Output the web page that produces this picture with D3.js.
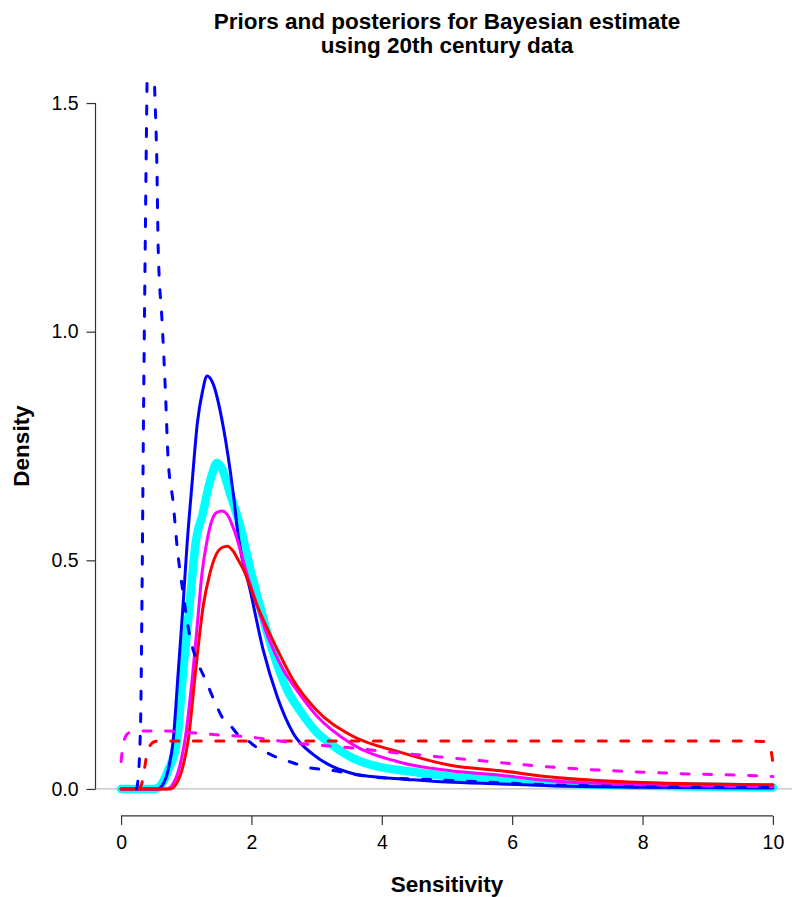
<!DOCTYPE html>
<html><head><meta charset="utf-8">
<script src="https://cdn.jsdelivr.net/npm/d3@7"></script>
<style>body{margin:0;background:#fff} svg{display:block;font-family:"Liberation Sans",Arial,Helvetica,sans-serif}</style>
</head><body><svg id="c" width="792" height="897"></svg>
<script>
// ---- data ----
const titleLines = ["Priors and posteriors for Bayesian estimate", "using 20th century data"];
const xLabel = "Sensitivity";
const yLabel = "Density";
const xTicks = [0, 2, 4, 6, 8, 10];
const yTicks = [0, 0.5, 1.0, 1.5];
const yTickLabels = ["0.0", "0.5", "1.0", "1.5"];

// posterior (thick cyan)
const cyanX = [0, 0.52, 0.62, 0.72, 0.86, 0.95, 1.05, 1.15, 1.25, 1.32, 1.4, 1.47, 1.55, 1.67, 1.83, 2.0, 2.13, 2.32, 2.55, 2.75, 3.0, 3.2, 3.52, 4.0, 4.29, 5.0, 5.82, 6.59, 8, 10];
const cyanY = [0, 0, 0.01, 0.04, 0.107, 0.254, 0.4, 0.544, 0.6, 0.647, 0.69, 0.713, 0.7, 0.647, 0.573, 0.47, 0.4, 0.304, 0.216, 0.17, 0.124, 0.1, 0.07, 0.047, 0.041, 0.028, 0.02, 0.013, 0.007, 0.003];

// posterior (blue solid)
const blueX = [0, 0.55, 0.65, 0.72, 0.8, 0.876, 0.95, 1.01, 1.09, 1.17, 1.25, 1.32, 1.4, 1.57, 1.72, 1.8, 1.98, 2.18, 2.4, 2.64, 2.95, 3.2, 3.52, 4.0, 4.29, 5.0, 5.82, 6.59, 8, 10];
const blueY = [0, 0, 0.012, 0.04, 0.107, 0.254, 0.4, 0.53, 0.67, 0.8, 0.87, 0.903, 0.89, 0.79, 0.647, 0.55, 0.435, 0.304, 0.2, 0.122, 0.075, 0.052, 0.035, 0.025, 0.022, 0.015, 0.011, 0.007, 0.004, 0.002];

// posterior (magenta solid)
const magX = [0, 0.7, 0.8, 0.9, 0.98, 1.1, 1.17, 1.24, 1.32, 1.4, 1.47, 1.55, 1.63, 1.75, 1.93, 2.09, 2.26, 2.49, 2.7, 3.0, 3.52, 4.29, 5.05, 5.82, 6.59, 8, 10];
const magY = [0, 0, 0.012, 0.05, 0.107, 0.254, 0.36, 0.47, 0.544, 0.59, 0.605, 0.608, 0.6, 0.56, 0.47, 0.4, 0.33, 0.26, 0.215, 0.16, 0.1, 0.058, 0.04, 0.03, 0.018, 0.009, 0.005];

// posterior (red solid)
const redX = [0, 0.75, 0.85, 0.95, 1.03, 1.14, 1.26, 1.36, 1.45, 1.55, 1.63, 1.72, 1.8, 1.88, 2.09, 2.4, 2.64, 3.0, 3.52, 4.29, 5.05, 5.82, 6.59, 8, 10];
const redY = [0, 0, 0.012, 0.05, 0.107, 0.254, 0.4, 0.47, 0.51, 0.528, 0.531, 0.52, 0.5, 0.479, 0.4, 0.304, 0.238, 0.172, 0.118, 0.08, 0.052, 0.04, 0.026, 0.014, 0.009];

// prior (blue dashed)
const bluePriorX = [0.24, 0.26, 0.3, 0.32, 0.34, 0.37, 0.4, 0.44, 0.48, 0.51, 0.55, 0.57, 0.63, 0.68, 0.72, 0.8, 0.86, 0.94, 1.06, 1.18, 1.29, 1.44, 1.55, 1.67, 1.8, 1.93, 2.09, 2.24, 2.41, 2.6, 2.9, 3.16, 3.87, 4.85, 6.6, 8, 10];
const bluePriorY = [0, 0.02, 0.15, 0.4, 0.75, 1.18, 1.56, 1.8, 1.75, 1.56, 1.36, 1.18, 1.02, 0.87, 0.726, 0.625, 0.529, 0.44, 0.33, 0.275, 0.24, 0.19, 0.157, 0.14, 0.118, 0.107, 0.09, 0.079, 0.068, 0.059, 0.046, 0.042, 0.026, 0.02, 0.009, 0.005, 0.003];

// prior (red dashed)
const redPriorX = [0.28, 0.32, 0.36, 0.4, 0.46, 0.52, 0.6, 1, 2, 4, 6, 8, 9.5, 9.85, 9.92, 9.97, 10];
const redPriorY = [0, 0.013, 0.045, 0.079, 0.098, 0.104, 0.105, 0.105, 0.105, 0.105, 0.105, 0.105, 0.105, 0.104, 0.1, 0.085, 0.055];

// prior (magenta dashed)
const magPriorX = [0, 0.03, 0.07, 0.12, 0.2, 0.5, 0.8, 1.17, 1.5, 1.94, 2.7, 3.52, 4.3, 5.05, 5.8, 6.59, 7.5, 8.5, 9.86, 10];
const magPriorY = [0.06, 0.095, 0.115, 0.123, 0.126, 0.127, 0.126, 0.122, 0.118, 0.114, 0.1, 0.09, 0.078, 0.068, 0.058, 0.048, 0.04, 0.034, 0.028, 0.027];

// ---- drawing ----
const svg = d3.select("#c");
const L = 95, R = 799, T = 75.6, B = 816.4;
const x = d3.scaleLinear().domain([-0.4, 10.4]).range([L, R]);
const y = d3.scaleLinear().domain([-0.06, 1.56]).range([B, T]);

svg.append("defs").append("clipPath").attr("id", "plot")
  .append("rect").attr("x", L).attr("y", T).attr("width", R - L).attr("height", B - T);

const g = svg.append("g").attr("clip-path", "url(#plot)");

// horizontal reference line at 0
g.append("line").attr("x1", L).attr("x2", R).attr("y1", y(0)).attr("y2", y(0))
  .attr("stroke", "#bdbdbd").attr("stroke-width", 1.3);

const line = d3.line().x(d => x(d[0])).y(d => y(d[1])).curve(d3.curveMonotoneX);
const zip = (xs, ys) => xs.map((v, i) => [v, ys[i]]);

const series = [
  {xs: cyanX, ys: cyanY, color: "#00ffff", w: 8.5, dash: null},
  {xs: blueX, ys: blueY, color: "#0000ff", w: 3, dash: null},
  {xs: magX, ys: magY, color: "#ff00ff", w: 3, dash: null},
  {xs: redX, ys: redY, color: "#ff0000", w: 3, dash: null},
  {xs: bluePriorX, ys: bluePriorY, color: "#0000ff", w: 3, dash: "8,14.5"},
  {xs: redPriorX, ys: redPriorY, color: "#ff0000", w: 3, dash: "8,14.5"},
  {xs: magPriorX, ys: magPriorY, color: "#ff00ff", w: 3, dash: "8,14.5"}
];
series.forEach(s => {
  g.append("path").datum(zip(s.xs, s.ys))
    .attr("d", line).attr("fill", "none")
    .attr("stroke", s.color).attr("stroke-width", s.w)
    .attr("stroke-linecap", "round").attr("stroke-linejoin", "round")
    .attr("stroke-dasharray", s.dash);
});

// axes
const axColor = "#333";
const xa = svg.append("g").attr("transform", `translate(0,${B - 0.5})`)
  .call(d3.axisBottom(x).tickValues(xTicks).tickSize(9).tickPadding(10).tickFormat(d3.format("d")));
xa.select(".domain").remove();
xa.append("line").attr("x1", x(0)).attr("x2", x(10)).attr("stroke", axColor).attr("stroke-width", 1.2);
xa.selectAll(".tick line").attr("stroke", axColor).attr("stroke-width", 1.2);
xa.selectAll(".tick text").attr("fill", "#000").style("font-size", "19.5px").style("font-family", "Liberation Sans, Arial, sans-serif");

const ya = svg.append("g").attr("transform", `translate(${L + 0.5},0)`)
  .call(d3.axisLeft(y).tickValues(yTicks).tickSize(9).tickPadding(8).tickFormat((d, i) => yTickLabels[i]));
ya.select(".domain").remove();
ya.append("line").attr("y1", y(0)).attr("y2", y(1.5)).attr("stroke", axColor).attr("stroke-width", 1.2);
ya.selectAll(".tick line").attr("stroke", axColor).attr("stroke-width", 1.2);
ya.selectAll(".tick text").attr("fill", "#000").style("font-size", "19.5px").style("font-family", "Liberation Sans, Arial, sans-serif");

// titles
const cx = (L + R) / 2;
svg.append("text").attr("x", cx).attr("y", 29).attr("text-anchor", "middle")
  .style("font-size", "22.5px").style("font-weight", "bold").text(titleLines[0]);
svg.append("text").attr("x", cx).attr("y", 53).attr("text-anchor", "middle")
  .style("font-size", "22.5px").style("font-weight", "bold").text(titleLines[1]);
svg.append("text").attr("x", cx).attr("y", 892).attr("text-anchor", "middle")
  .style("font-size", "22.5px").style("font-weight", "bold").text(xLabel);
svg.append("text").attr("transform", `translate(29,${(T + B) / 2}) rotate(-90)`).attr("text-anchor", "middle")
  .style("font-size", "22.5px").style("font-weight", "bold").text(yLabel);
</script></body></html>
